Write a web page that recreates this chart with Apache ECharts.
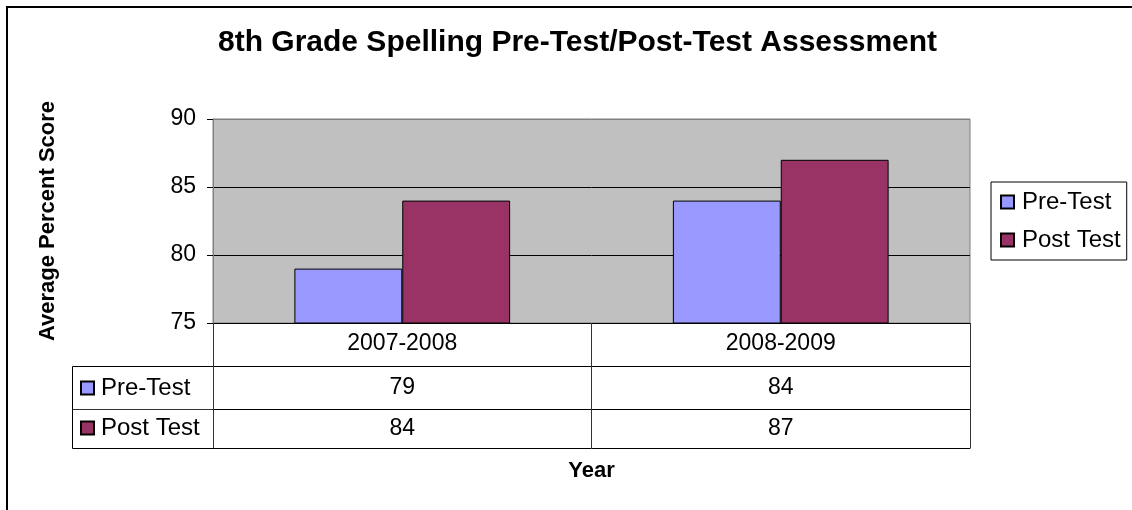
<!DOCTYPE html>
<html>
<head>
<meta charset="utf-8">
<script src="https://cdn.jsdelivr.net/npm/echarts@6/dist/echarts.min.js"></script>
<style>
  html, body { margin: 0; padding: 0; background: #fff; }
  #chart { width: 1132px; height: 510px; }
</style>
</head>
<body>
<div id="chart"></div>
<script>
// chart data
const years = ['2007-2008', '2008-2009']
const preTest = [79, 84]
const postTest = [84, 87]
const seriesNames = ['Pre-Test', 'Post Test']
const yTicks = [75, 80, 85, 90]

const font = '"Liberation Sans", Arial, sans-serif'
const preColor = '#9999FF'
const postColor = '#993366'

const chart = echarts.init(document.getElementById('chart'))

// table row axes share the same grid, only offset differs
function tableAxis(offset, values, margin) {
  return {
    type: 'category',
    data: years,
    gridIndex: 0,
    position: 'bottom',
    offset: offset,
    axisLine: { show: true, lineStyle: { color: '#000', width: 1 } },
    axisTick: { show: false },
    axisLabel: {
      show: !!values,
      margin: margin,
      color: '#000',
      fontFamily: font,
      fontSize: 23,
      formatter: (v, i) => values ? String(values[i]) : ''
    },
    splitLine: { show: false }
  }
}

const lastAxis = tableAxis(125, null, 0)
lastAxis.name = 'Year'
lastAxis.nameLocation = 'middle'
lastAxis.nameGap = 12
lastAxis.nameTextStyle = { fontFamily: font, fontSize: 22, fontWeight: 'bold', color: '#000' }

chart.setOption({
  animation: false,
  backgroundColor: '#fff',
  title: {
    text: '8th Grade Spelling Pre-Test/Post-Test Assessment',
    left: 218,
    top: 28,
    padding: 0,
    textStyle: { fontFamily: font, fontSize: 30, fontWeight: 'bold', color: '#000' }
  },
  grid: {
    left: 213,
    top: 119,
    width: 757,
    height: 204,
    show: true,
    backgroundColor: '#C0C0C0',
    borderColor: '#808080',
    borderWidth: 1
  },
  legend: [{
    orient: 'vertical',
    left: 991,
    top: 182,
    padding: [8, 6, 8, 9],
    itemGap: 14,
    itemWidth: 13,
    itemHeight: 13,
    icon: 'rect',
    borderColor: '#000',
    borderWidth: 1,
    data: seriesNames,
    textStyle: { fontFamily: font, fontSize: 24, lineHeight: 24, color: '#000', padding: [0, 0, 0, 3] }
  }, {
    orient: 'vertical',
    left: 80,
    top: 376,
    padding: 0,
    itemGap: 16,
    itemWidth: 13,
    itemHeight: 13,
    icon: 'rect',
    data: seriesNames,
    textStyle: { fontFamily: font, fontSize: 24, lineHeight: 24, color: '#000', padding: [0, 0, 0, 2] }
  }],
  xAxis: [{
    type: 'category',
    data: years,
    axisLine: { show: true, lineStyle: { color: '#000', width: 1 } },
    axisTick: { show: true, length: 125, lineStyle: { color: '#333' } },
    axisLabel: { margin: 9, color: '#000', fontFamily: font, fontSize: 23 }
  },
    tableAxis(43, preTest, 10),
    tableAxis(86, postTest, 8),
    lastAxis
  ],
  yAxis: {
    type: 'value',
    min: yTicks[0],
    max: yTicks[yTicks.length - 1],
    interval: 5,
    name: 'Average Percent Score',
    nameLocation: 'middle',
    nameGap: 154,
    nameTextStyle: { fontFamily: font, fontSize: 22, fontWeight: 'bold', color: '#000' },
    axisLine: { show: true, lineStyle: { color: '#808080' } },
    axisTick: { show: true, length: 6, lineStyle: { color: '#000' } },
    axisLabel: { margin: 17, color: '#000', fontFamily: font, fontSize: 23 },
    splitLine: { show: true, lineStyle: { color: ['#000', '#000', '#000', '#808080'], width: 1 } }
  },
  series: [{
    name: seriesNames[0],
    type: 'bar',
    data: preTest,
    barGap: '0%',
    barCategoryGap: '43%',
    itemStyle: { color: preColor, borderColor: '#000', borderWidth: 1 }
  }, {
    name: seriesNames[1],
    type: 'bar',
    data: postTest,
    itemStyle: { color: postColor, borderColor: '#000', borderWidth: 1 }
  }],
  graphic: [{
    // outer frame, runs off the right and bottom edges
    type: 'rect',
    shape: { x: 7, y: 7, width: 1200, height: 600 },
    style: { fill: 'none', stroke: '#000', lineWidth: 2 },
    silent: true
  }, {
    // left part of the data table (legend keys)
    type: 'rect',
    shape: { x: 72.5, y: 366.5, width: 141, height: 82 },
    style: { fill: 'none', stroke: '#000', lineWidth: 1 },
    silent: true
  }, {
    type: 'line',
    shape: { x1: 72.5, y1: 409.5, x2: 213, y2: 409.5 },
    style: { stroke: '#333', lineWidth: 1 },
    silent: true
  }]
})
</script>
</body>
</html>
